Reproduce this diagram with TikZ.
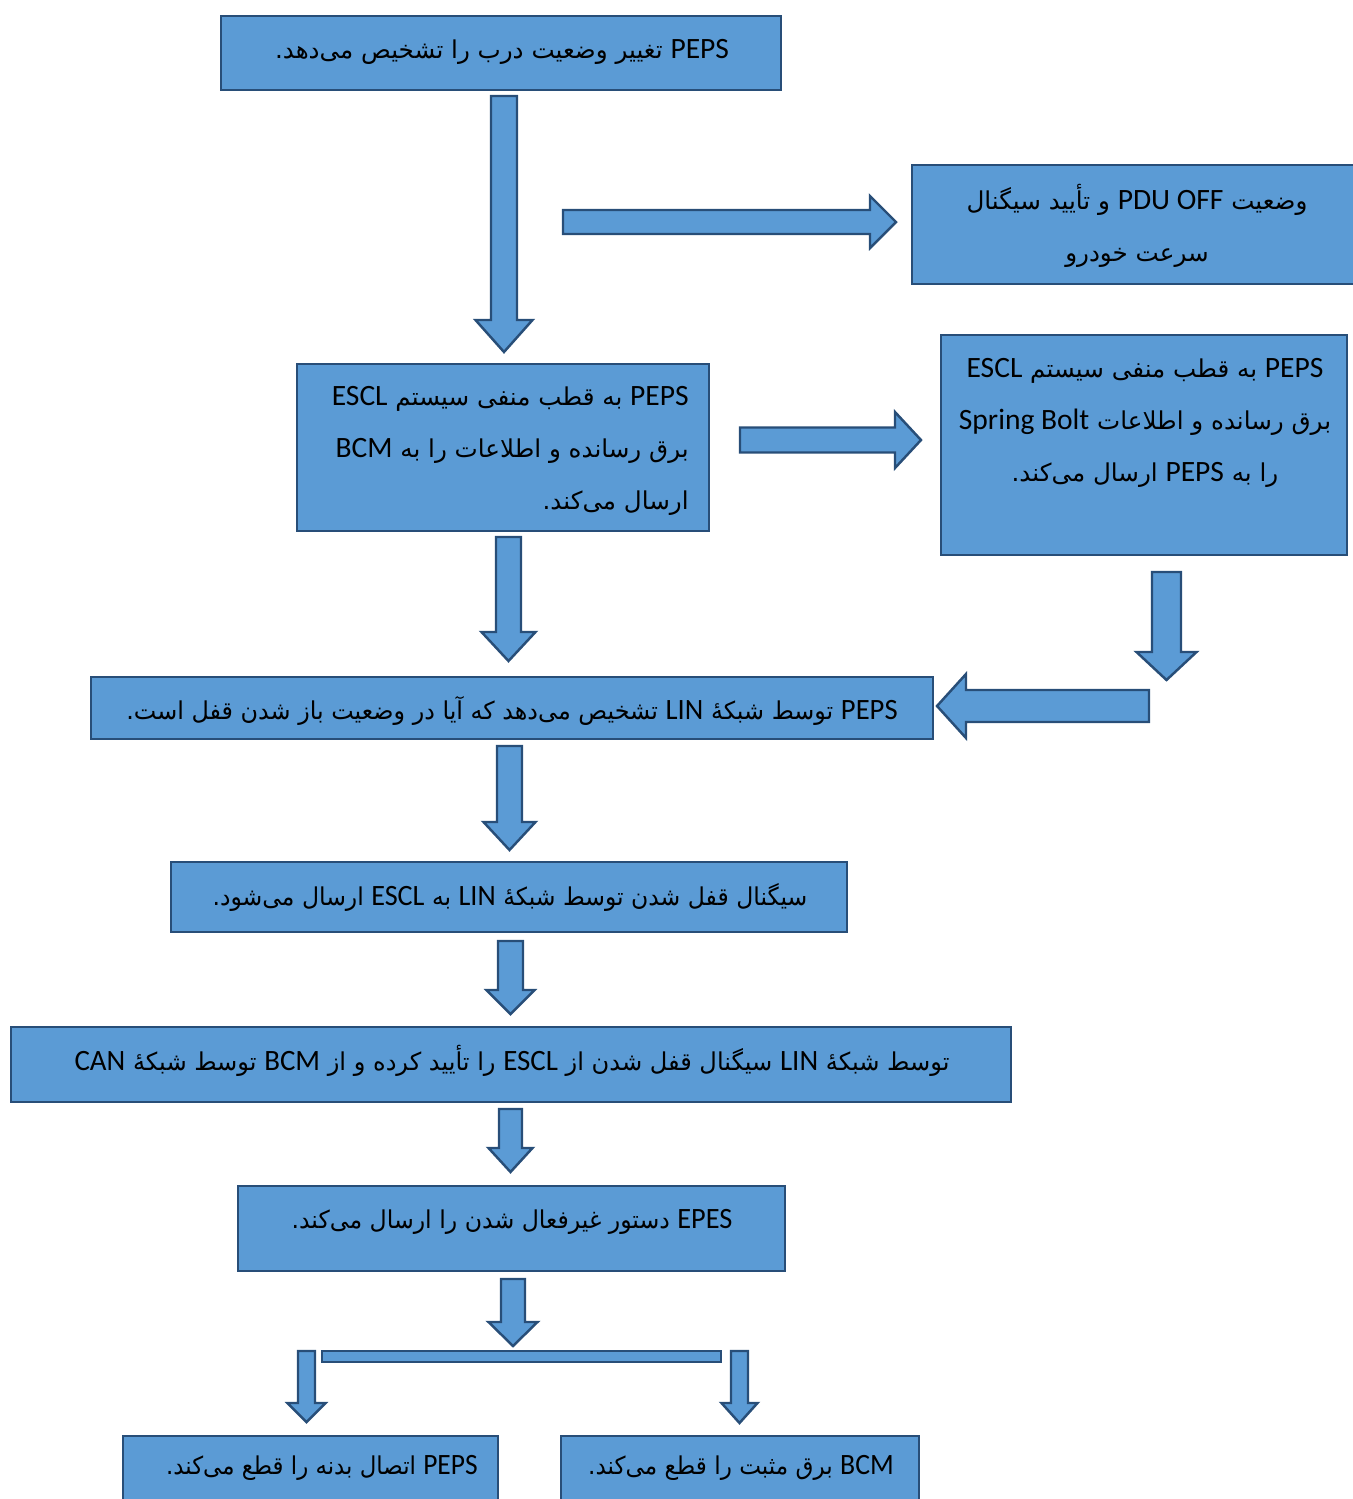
\documentclass[tikz,border=0pt]{standalone}
\usepackage{fontspec}
\setmainfont{Carlito}
\newfontfamily\farsi[Script=Arabic]{DejaVu Sans}
\newfontfamily\latn[Scale=1.2]{Carlito}
\TeXXeTstate=1
\newcommand{\lw}[1]{{\latn\beginL #1\endL}}

\definecolor{boxblue}{RGB}{91,155,213}
\definecolor{edgeblue}{RGB}{40,78,120}

\tikzset{
  flowbox/.style={fill=boxblue,draw=edgeblue,line width=1.4pt,line join=miter},
  flowtext/.style={font=\fontsize{14}{29.5}\selectfont\farsi,inner sep=0pt},
}

% block arrow pointing down: x, y start, y of head, y of tip, half shaft, half head
\newcommand{\downarr}[6]{%
  \draw[flowbox] ({#1-#5},#2) -- ({#1+#5},#2) -- ({#1+#5},#3) -- ({#1+#6},#3)
    -- (#1,#4) -- ({#1-#6},#3) -- ({#1-#5},#3) -- cycle;}
% block arrow pointing sideways: y, x start, x of head, x of tip, half shaft, half head
\newcommand{\sidearr}[6]{%
  \draw[flowbox] (#2,{#1-#5}) -- (#3,{#1-#5}) -- (#3,{#1-#6}) -- (#4,#1)
    -- (#3,{#1+#6}) -- (#3,{#1+#5}) -- (#2,{#1+#5}) -- cycle;}

\begin{document}
\begin{tikzpicture}[x=0.02cm,y=-0.02cm]
  \useasboundingbox (0,0) rectangle (1353,1499);

  % boxes
  \draw[flowbox] (221,16) rectangle (781,90);
  \draw[flowbox] (912,165) rectangle (1360,284);
  \draw[flowbox] (297,364) rectangle (709,531);
  \draw[flowbox] (941,335) rectangle (1347,555);
  \draw[flowbox] (91,677) rectangle (933,739);
  \draw[flowbox] (171,862) rectangle (847,932);
  \draw[flowbox] (11,1027) rectangle (1011,1102);
  \draw[flowbox] (238,1186) rectangle (785,1271);
  \draw[flowbox] (123,1436) rectangle (498,1510);
  \draw[flowbox] (561,1436) rectangle (919,1510);

  % texts (multi-line nodes sit on their last baseline)
  \node[flowtext,anchor=base] (detect) at (502,58)
    {\beginR\lw{PEPS} تغییر وضعیت درب را تشخیص می^^^^200cدهد.\endR};
  \node[flowtext,anchor=base,align=center] (pdu) at (1137,261)
    {\beginR وضعیت \lw{PDU OFF} و تأیید سیگنال\endR\\\beginR سرعت خودرو\endR};
  \node[flowtext,anchor=base east,align=right] (feedbcm) at (689,509)
    {\beginR\lw{PEPS} به قطب منفی سیستم \lw{ESCL}\endR\\
     \beginR برق رسانده و اطلاعات را به \lw{BCM}\endR\\
     \beginR ارسال می^^^^200cکند.\endR};
  \node[flowtext,anchor=base,align=center] (feedpeps) at (1145,481)
    {\beginR\lw{PEPS} به قطب منفی سیستم \lw{ESCL}\endR\\
     \beginR برق رسانده و اطلاعات \lw{Spring Bolt}\endR\\
     \beginR را به \lw{PEPS} ارسال می^^^^200cکند.\endR};
  \node[flowtext,anchor=base,xscale=0.97] (linchk) at (512,719)
    {\beginR\lw{PEPS} توسط شبکهٔ \lw{LIN} تشخیص می^^^^200cدهد که آیا در وضعیت باز شدن قفل است.\endR};
  \node[flowtext,anchor=base,xscale=0.955] (locksig) at (510,905)
    {\beginR سیگنال قفل شدن توسط شبکهٔ \lw{LIN} به \lw{ESCL} ارسال می^^^^200cشود.\endR};
  \node[flowtext,anchor=base,xscale=0.98] (confirm) at (512,1070)
    {\beginR توسط شبکهٔ \lw{LIN} سیگنال قفل شدن از \lw{ESCL} را تأیید کرده و از \lw{BCM} توسط شبکهٔ \lw{CAN}\endR};
  \node[flowtext,anchor=base,xscale=0.96] (disable) at (512,1228)
    {\beginR\lw{EPES} دستور غیرفعال شدن را ارسال می^^^^200cکند.\endR};
  \node[flowtext,anchor=base east,xscale=0.93] (cutbody) at (478,1474)
    {\beginR\lw{PEPS} اتصال بدنه را قطع می^^^^200cکند.\endR};
  \node[flowtext,anchor=base,xscale=0.94] (cutpos) at (741,1474)
    {\beginR\lw{BCM} برق مثبت را قطع می^^^^200cکند.\endR};

  % block arrows
  \downarr{504}{96}{320}{352}{13}{28.5}
  \sidearr{222}{563}{870}{896}{12}{26}
  \sidearr{440}{740}{895}{921}{12.5}{28}
  \downarr{508.5}{537}{632}{661}{12.5}{27}
  \downarr{1166.5}{572}{652}{680}{14.5}{30}
  \sidearr{706}{1149}{966}{937}{16}{32}
  \downarr{509.5}{746}{822}{850}{12.5}{26}
  \downarr{510.5}{941}{990}{1014}{12.5}{24}
  \downarr{510.5}{1109}{1148}{1172}{11.5}{22}
  \downarr{513}{1279}{1322}{1346}{12}{24.5}
  \draw[flowbox] (322,1351) rectangle (721,1362);
  \downarr{306.5}{1351}{1403}{1422}{8.5}{19}
  \downarr{739.5}{1351}{1403}{1423}{8.5}{18}
\end{tikzpicture}
\end{document}
